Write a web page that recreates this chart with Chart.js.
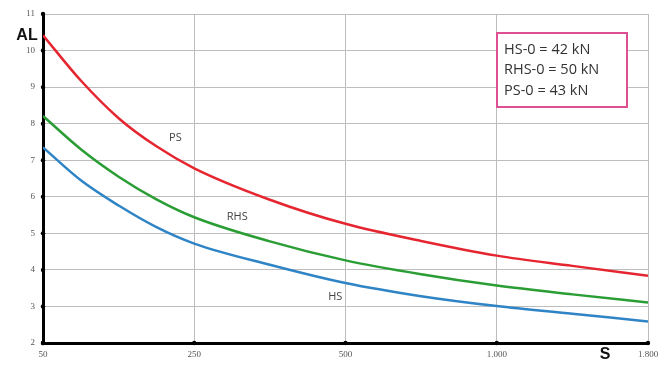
<!DOCTYPE html>
<html>
<head>
<meta charset="utf-8">
<script src="https://cdn.jsdelivr.net/npm/chart.js@4/dist/chart.umd.min.js"></script>
<style>
  html, body { margin: 0; padding: 0; background: #fff; }
</style>
</head>
<body>
<canvas id="chart" width="669" height="367"></canvas>
<script>
// x axis: labelled ticks, equally spaced (piecewise axis)
var tickValues = [50, 250, 500, 1000, 1800];
var tickLabels = ['50', '250', '500', '1.000', '1.800'];

// readings of the curves
var sValues   = [50, 100, 150, 200, 250, 375, 500, 750, 1000, 1400, 1800];
var psValues  = [10.42, 9.18, 8.15, 7.38, 6.78, 5.92, 5.26, 4.79, 4.39, 4.11, 3.84];
var rhsValues = [8.21, 7.30, 6.55, 5.93, 5.44, 4.78, 4.26, 3.88, 3.57, 3.33, 3.11];
var hsValues  = [7.35, 6.45, 5.76, 5.17, 4.72, 4.14, 3.64, 3.28, 3.01, 2.80, 2.59];

var legendLines = ['HS-0 = 42 kN', 'RHS-0 = 50 kN', 'PS-0 = 43 kN'];
var curveNames = ['PS', 'RHS', 'HS'];
var curveNameS = [225, 321, 483];
var curveNameAL = [7.62, 5.46, 3.25];

// S value -> position on the equally spaced axis
function toPos(s) {
    for (var i = 0; i < tickValues.length - 1; i++) {
        if (s <= tickValues[i + 1]) {
            return i + (s - tickValues[i]) / (tickValues[i + 1] - tickValues[i]);
        }
    }
    return tickValues.length - 1;
}

function series(vals) {
    var pts = [];
    for (var i = 0; i < sValues.length; i++) {
        pts.push({ x: toPos(sValues[i]), y: vals[i] });
    }
    return pts;
}

var extras = {
    id: 'extras',
    afterDraw: function (chart) {
        var ctx = chart.ctx;
        var xs = chart.scales.x, ys = chart.scales.y;
        var area = chart.chartArea;
        ctx.save();
        // tick dots on the axes
        ctx.fillStyle = '#000';
        for (var v = 2; v <= 11; v++) {
            ctx.beginPath();
            ctx.arc(area.left, ys.getPixelForValue(v), 2.2, 0, Math.PI * 2);
            ctx.fill();
        }
        for (var i = 0; i < tickValues.length; i++) {
            ctx.beginPath();
            ctx.arc(xs.getPixelForValue(i), area.bottom, 2.2, 0, Math.PI * 2);
            ctx.fill();
        }
        // axis titles
        ctx.fillStyle = '#111';
        ctx.font = 'bold 16px "Liberation Sans", Arial, sans-serif';
        ctx.textAlign = 'center';
        ctx.textBaseline = 'middle';
        ctx.fillText('AL', 27, 36);
        ctx.fillText('S', 605, 355);
        // curve names
        ctx.fillStyle = '#444';
        ctx.font = '11px "Open Sans", sans-serif';
        for (var k = 0; k < curveNames.length; k++) {
            ctx.fillText(curveNames[k], xs.getPixelForValue(toPos(curveNameS[k])), ys.getPixelForValue(curveNameAL[k]));
        }
        // parameter box
        ctx.strokeStyle = '#df4f94';
        ctx.lineWidth = 2;
        ctx.fillStyle = '#fff';
        ctx.fillRect(497, 33, 130, 74);
        ctx.strokeRect(497, 33, 130, 74);
        ctx.fillStyle = '#333';
        ctx.font = '14.5px "Open Sans", sans-serif';
        ctx.textAlign = 'left';
        for (var j = 0; j < legendLines.length; j++) {
            ctx.fillText(legendLines[j], 504, 49.5 + j * 20.7);
        }
        ctx.restore();
    }
};

new Chart(document.getElementById('chart'), {
    type: 'line',
    data: {
        datasets: [
            { label: 'PS', data: series(psValues), borderColor: '#e52630', borderWidth: 2.5, pointRadius: 0, cubicInterpolationMode: 'monotone' },
            { label: 'RHS', data: series(rhsValues), borderColor: '#2a9d35', borderWidth: 2.5, pointRadius: 0, cubicInterpolationMode: 'monotone' },
            { label: 'HS', data: series(hsValues), borderColor: '#2f84c6', borderWidth: 2.5, pointRadius: 0, cubicInterpolationMode: 'monotone' }
        ]
    },
    options: {
        responsive: false,
        animation: false,
        devicePixelRatio: 1,
        layout: { padding: { left: 0, top: 14, right: 21, bottom: 0 } },
        plugins: { legend: { display: false }, tooltip: { enabled: false } },
        scales: {
            x: {
                type: 'linear',
                min: 0,
                max: tickValues.length - 1,
                afterFit: function (scale) { scale.height = 24; },
                afterBuildTicks: function (scale) {
                    scale.ticks = tickValues.map(function (t, i) { return { value: i }; });
                },
                ticks: {
                    color: '#555',
                    font: { size: 9, family: 'Liberation Serif' },
                    padding: 6,
                    maxRotation: 0,
                    callback: function (value) { return tickLabels[value]; }
                },
                grid: { color: '#bdbdbd', lineWidth: 1, drawTicks: false },
                border: { color: '#000', width: 3 }
            },
            y: {
                min: 2,
                max: 11,
                afterFit: function (scale) { scale.width = 43; },
                ticks: {
                    stepSize: 1,
                    color: '#555',
                    font: { size: 9, family: 'Liberation Serif' },
                    padding: 8
                },
                grid: { color: '#bdbdbd', lineWidth: 1, drawTicks: false },
                border: { color: '#000', width: 3 }
            }
        }
    },
    plugins: [extras]
});
</script>
</body>
</html>
